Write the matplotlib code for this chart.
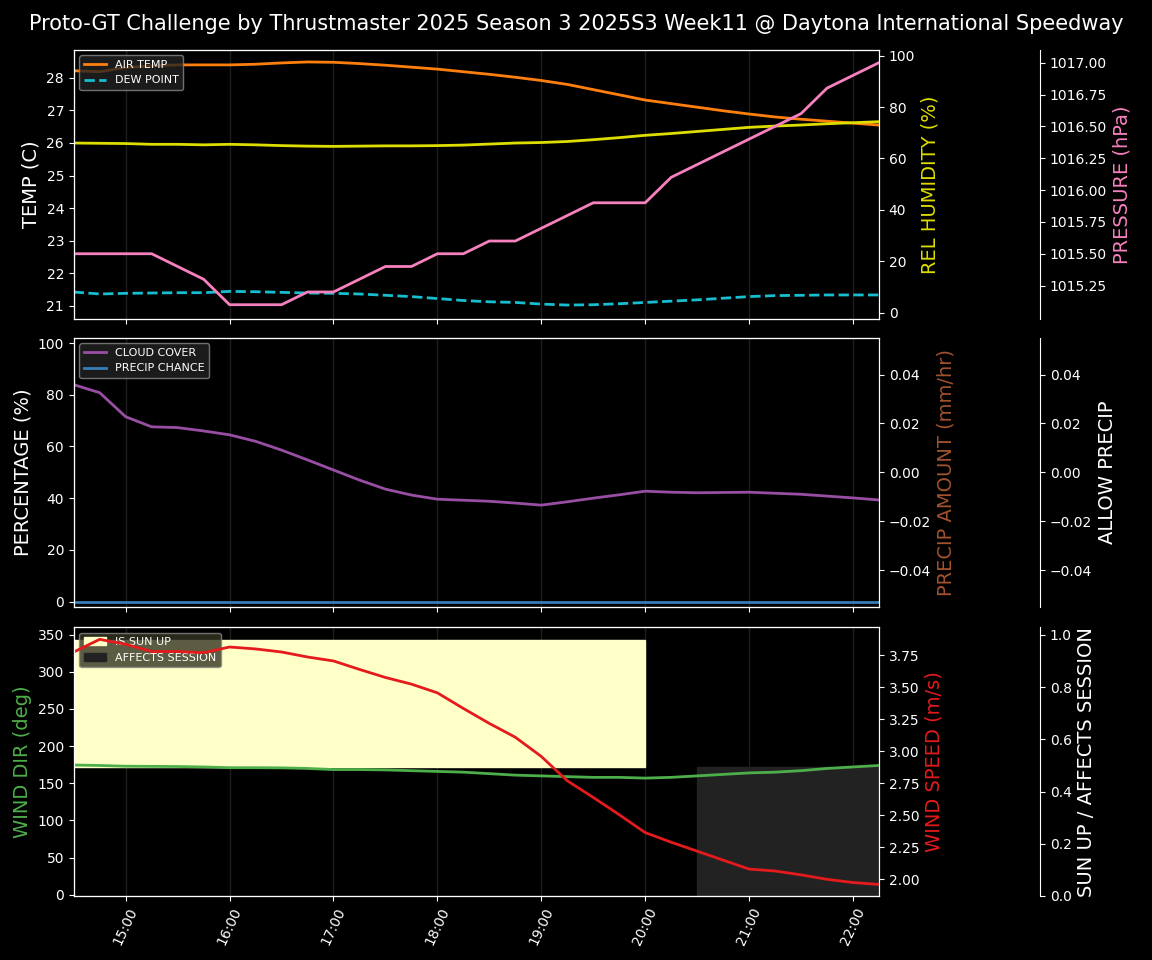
import numpy as np
import pandas as pd
import matplotlib
matplotlib.use('Agg')
import matplotlib.pyplot as plt
import matplotlib.dates as mdates

plt.style.use('dark_background')

TITLE = 'Proto-GT Challenge by Thrustmaster 2025 Season 3 2025S3 Week11 @ Daytona International Speedway'
times = pd.date_range('2025-09-01 14:30', '2025-09-01 22:15', freq='15min')

air_temp = [28.22, 28.19, 28.32, 28.37, 28.40, 28.40, 28.40, 28.42, 28.46, 28.49, 28.48, 28.44,
            28.39, 28.33, 28.27, 28.19, 28.11, 28.02, 27.92, 27.80, 27.64, 27.48, 27.32, 27.21,
            27.10, 26.99, 26.89, 26.80, 26.73, 26.67, 26.61, 26.55]
dew_point = [21.42, 21.36, 21.38, 21.39, 21.40, 21.40, 21.44, 21.43, 21.41, 21.39, 21.38, 21.36,
             21.32, 21.28, 21.22, 21.16, 21.12, 21.10, 21.05, 21.02, 21.03, 21.06, 21.10, 21.14,
             21.18, 21.23, 21.28, 21.31, 21.32, 21.33, 21.33, 21.33]
humidity = [66.0, 65.9, 65.8, 65.5, 65.5, 65.3, 65.5, 65.3, 65.0, 64.8, 64.7, 64.8, 64.9, 64.9,
            65.0, 65.2, 65.6, 66.0, 66.2, 66.6, 67.3, 68.1, 69.0, 69.7, 70.5, 71.3, 72.1, 72.6,
            73.0, 73.5, 73.9, 74.3]
pressure = [1015.5, 1015.5, 1015.5, 1015.5, 1015.4, 1015.3, 1015.1, 1015.1, 1015.1, 1015.2,
            1015.2, 1015.3, 1015.4, 1015.4, 1015.5, 1015.5, 1015.6, 1015.6, 1015.7, 1015.8,
            1015.9, 1015.9, 1015.9, 1016.1, 1016.2, 1016.3, 1016.4, 1016.5, 1016.6, 1016.8,
            1016.9, 1017.0]
cloud = [83.9, 80.8, 71.5, 67.6, 67.3, 66.0, 64.5, 62.0, 58.6, 54.8, 50.9, 47.0, 43.5, 41.2,
         39.6, 39.2, 38.8, 38.1, 37.3, 38.6, 40.0, 41.3, 42.7, 42.3, 42.1, 42.2, 42.3, 41.9,
         41.5, 40.8, 40.1, 39.3]
precip_chance = [0] * 32
precip_amount = [0.0] * 32
wind_dir = [174.6, 174.0, 173.0, 172.8, 172.6, 172.0, 171.0, 171.0, 170.8, 170.0, 168.5, 168.5,
            168.0, 167.0, 166.0, 165.0, 163.0, 161.0, 160.0, 159.0, 158.0, 158.0, 157.0, 158.0,
            160.0, 162.0, 164.0, 165.0, 167.0, 170.0, 172.0, 174.0]
wind_speed = [3.776, 3.875, 3.836, 3.78, 3.78, 3.77, 3.815, 3.80, 3.776, 3.737, 3.706, 3.64,
              3.577, 3.525, 3.457, 3.335, 3.218, 3.11, 2.96, 2.77, 2.64, 2.505, 2.365, 2.29,
              2.22, 2.15, 2.08, 2.065, 2.035, 2.0, 1.975, 1.96]
sun_up_end = pd.Timestamp('2025-09-01 20:00')
affects_start = pd.Timestamp('2025-09-01 20:30')

fig = plt.figure(figsize=(11.52, 9.6), dpi=100, facecolor='black')
L, W, H = 0.064, 0.699, 0.280
ax1 = fig.add_axes([L, 0.668, W, H])
ax2 = fig.add_axes([L, 0.368, W, H], sharex=ax1)
ax3 = fig.add_axes([L, 0.0667, W, H], sharex=ax1)
fig.suptitle(TITLE, fontsize=15, color='white', y=0.985)

LBL = 14
for ax in (ax1, ax2, ax3):
    ax.set_facecolor('black')
    for h in range(15, 23):
        ax.axvline(pd.Timestamp(f'2025-09-01 {h}:00'), color='#333333', lw=1, alpha=0.6, zorder=0)

# --- top panel
ax1.plot(times, air_temp, color='#ff7f0e', lw=2, label='AIR TEMP')
ax1.plot(times, dew_point, color='#17becf', lw=2, ls='--', label='DEW POINT')
ax1.set_ylim(20.6, 28.86)
ax1.set_ylabel('TEMP (C)', fontsize=LBL, color='white')
ax1.legend(loc='upper left', fontsize=8, facecolor='#222222', edgecolor='#888888')
ax1b = ax1.twinx()
ax1b.plot(times, humidity, color='#dddd00', lw=2)
ax1b.set_ylim(-2.3, 102.2)
ax1b.set_ylabel('REL HUMIDITY (%)', fontsize=LBL, color='#dddd00')
ax1c = ax1.twinx()
ax1c.spines['right'].set_position(('axes', 1.2))
ax1c.plot(times, pressure, color='#f781bf', lw=2)
ax1c.set_ylim(1014.99, 1017.1)
ax1c.set_yticks([1015.25, 1015.5, 1015.75, 1016.0, 1016.25, 1016.5, 1016.75, 1017.0])
ax1c.yaxis.set_major_formatter(matplotlib.ticker.FormatStrFormatter('%.2f'))
ax1c.set_ylabel('PRESSURE (hPa)', fontsize=LBL, color='#f781bf')

# --- middle panel
ax2.plot(times, cloud, color='#984ea3', lw=2, label='CLOUD COVER')
ax2.plot(times, precip_chance, color='#377eb8', lw=2, label='PRECIP CHANCE')
ax2.set_ylim(-2, 102)
ax2.set_ylabel('PERCENTAGE (%)', fontsize=LBL, color='white')
ax2.legend(loc='upper left', fontsize=8, facecolor='#222222', edgecolor='#888888')
ax2b = ax2.twinx()
ax2b.plot(times, precip_amount, color='#a0522d', lw=0)
ax2b.set_ylim(-0.055, 0.055)
ax2b.set_ylabel('PRECIP AMOUNT (mm/hr)', fontsize=LBL, color='#a0522d')
ax2c = ax2.twinx()
ax2c.spines['right'].set_position(('axes', 1.2))
ax2c.set_ylim(-0.055, 0.055)
ax2c.set_yticks([-0.04, -0.02, 0.0, 0.02, 0.04])
ax2c.set_ylabel('ALLOW PRECIP', fontsize=LBL, color='white')

# --- bottom panel
ax3.axvspan(times[0], sun_up_end, ymin=0.48, ymax=0.952, color='#ffffc8', zorder=1, label='IS SUN UP')
ax3.axvspan(affects_start, times[-1], ymin=0, ymax=0.48, color='#222222', zorder=1, label='AFFECTS SESSION')
ax3.plot(times, wind_dir, color='#4daf4a', lw=2, zorder=3)
ax3.set_ylim(-1.5, 360)
ax3.set_ylabel('WIND DIR (deg)', fontsize=LBL, color='#4daf4a')
ax3.legend(loc='upper left', fontsize=8, facecolor='#333322', edgecolor='#888888')
ax3b = ax3.twinx()
ax3b.plot(times, wind_speed, color='#e41a1c', lw=2)
ax3b.set_ylim(1.87, 3.97)
ax3b.set_ylabel('WIND SPEED (m/s)', fontsize=LBL, color='#e41a1c')
ax3c = ax3.twinx()
ax3c.spines['right'].set_position(('axes', 1.2))
ax3c.set_ylim(0, 1.03)
ax3c.set_ylabel('SUN UP / AFFECTS SESSION', fontsize=LBL, color='white')

ax1.set_xlim(times[0], times[-1])
ax3.xaxis.set_major_locator(mdates.HourLocator())
ax3.xaxis.set_major_formatter(mdates.DateFormatter('%H:%M'))
plt.setp(ax1.get_xticklabels(), visible=False)
plt.setp(ax2.get_xticklabels(), visible=False)
plt.setp(ax3.get_xticklabels(), rotation=65, ha='center')

fig.savefig('out.png', dpi=100, facecolor='black')
